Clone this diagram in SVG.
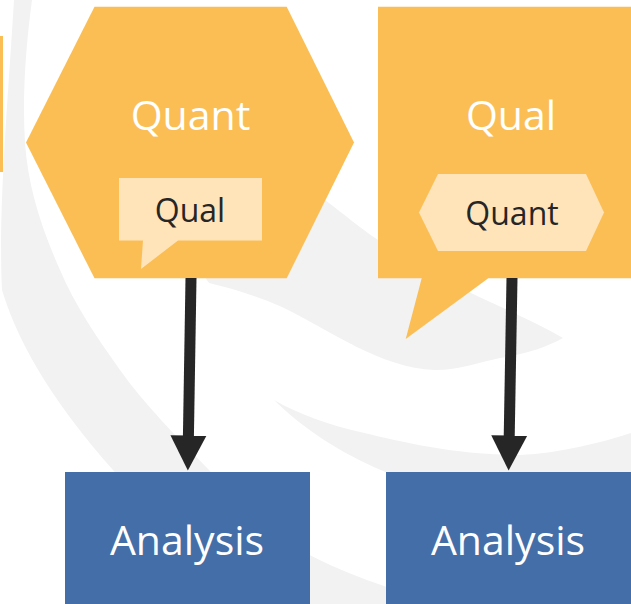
<svg xmlns="http://www.w3.org/2000/svg" width="631" height="604" viewBox="0 0 631 604">
  <style>
    .swoosh { fill: #F2F2F2; }
    .gold { fill: #FBBE55; }
    .pale { fill: #FFE4BA; }
    .box { fill: #436EA7; }
    .big { font-family: "Open Sans", "Noto Sans", sans-serif; font-size: 41px; fill: #FFFFFF; text-anchor: middle; }
    .small { font-family: "Open Sans", "Noto Sans", sans-serif; font-size: 32px; fill: #262626; text-anchor: middle; }
    .shaft { stroke: #262626; stroke-width: 11; fill: none; }
  </style>
  <defs>
    <marker id="head" markerUnits="userSpaceOnUse" markerWidth="40" markerHeight="40" viewBox="0 -20 40 40" refX="2" refY="0" orient="auto">
      <path d="M0,-18 L35,0 L0,18 Z" fill="#262626"/>
    </marker>
  </defs>

  <rect width="631" height="604" fill="#FFFFFF"/>

  <!-- faint background swooshes -->
  <g id="backdrop">
    <path class="swoosh" d="M14,0 C8,100 -2,210 2,290 C20,350 60,410 113,470 C150,515 200,565 250,604 L445,604 C390,590 340,572 300,550 C265,527 235,500 209,470 C175,435 145,405 120,370 C95,335 75,305 60,270 C40,225 28,185 25,143 C22,95 26,45 32,0 Z"/>
    <path class="swoosh" d="M230,110 C270,150 300,180 325,200 C345,215 360,228 378,240 C410,260 440,278 471,293 C500,307 535,322 563,338 C545,348 525,354 500,358 C480,362 460,370 435,370 C380,368 330,330 282,307 C255,295 230,288 209,283 L180,240 Z"/>
    <path class="swoosh" d="M274,400 C300,415 330,425 360,432 C410,444 460,455 520,455 C560,453 600,443 631,433 L631,476 L395,476 C360,462 315,440 274,400 Z"/>
  </g>

  <!-- edge of a neighbouring shape -->
  <g id="edge-shape">
    <rect class="gold" x="0" y="36" width="3" height="136"/>
  </g>

  <!-- Quant hexagon with Qual callout -->
  <g id="quant-hexagon">
    <polygon class="gold" points="94.5,6.7 286.7,6.7 354,142.5 286.7,278.3 94.5,278.3 26,142.5"/>
    <text class="big" x="190.5" y="130">Quant</text>
  </g>
  <g id="qual-callout">
    <path class="pale" d="M119,178 H262 V240.5 H178 L141,269 L143,240.5 H119 Z"/>
    <text class="small" x="190" y="222">Qual</text>
  </g>

  <!-- Qual callout with Quant hexagon -->
  <g id="qual-bubble">
    <path class="gold" d="M378,6.7 H631 V278.3 H488.3 L405.7,339 L421.7,278.3 H378 Z"/>
    <text class="big" x="511" y="130">Qual</text>
  </g>
  <g id="quant-tag">
    <polygon class="pale" points="419,212.5 438,174 586,174 604,212.5 586,251 438,251"/>
    <text class="small" x="512" y="225">Quant</text>
  </g>

  <!-- analysis boxes -->
  <g id="analysis-left">
    <rect class="box" x="65" y="472" width="245" height="132"/>
    <text class="big" x="187" y="555">Analysis</text>
  </g>
  <g id="analysis-right">
    <rect class="box" x="386" y="472" width="245" height="132"/>
    <text class="big" x="508" y="555">Analysis</text>
  </g>

  <!-- connectors -->
  <g id="connectors">
    <line class="shaft" x1="191" y1="278" x2="188.4" y2="437.5" marker-end="url(#head)"/>
    <line class="shaft" x1="512" y1="278" x2="509.2" y2="437.5" marker-end="url(#head)"/>
  </g>
</svg>
